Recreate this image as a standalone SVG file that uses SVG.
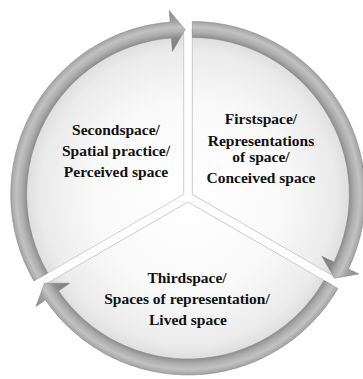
<svg xmlns="http://www.w3.org/2000/svg" xmlns:xlink="http://www.w3.org/1999/xlink" width="363" height="379" viewBox="0 0 363 379">
  <style>
    .lbl { font-family: "Liberation Serif", "Times New Roman", serif; font-weight: bold; font-size: 15.5px; fill: #111111; text-anchor: middle; }
    .pie { fill: url(#pieFill); stroke: #c4c4c4; stroke-width: 0.8; }
    .arr { fill: url(#bandFill); stroke: #858585; stroke-width: 0.5; }
  </style>
  <defs>
    <radialGradient id="pieFill" gradientUnits="userSpaceOnUse" cx="0" cy="0" r="168">
      <stop offset="0" stop-color="#ffffff"/>
      <stop offset="0.55" stop-color="#f9f9f9"/>
      <stop offset="0.85" stop-color="#ebebeb"/>
      <stop offset="1" stop-color="#d6d6d6"/>
    </radialGradient>
    <radialGradient id="bandFill" gradientUnits="userSpaceOnUse" cx="0" cy="0" r="185">
      <stop offset="0.77" stop-color="#7c7c7c"/>
      <stop offset="0.845" stop-color="#8a8a8a"/>
      <stop offset="0.875" stop-color="#adadad"/>
      <stop offset="0.905" stop-color="#c2c2c2"/>
      <stop offset="0.935" stop-color="#a2a2a2"/>
      <stop offset="1" stop-color="#868686"/>
    </radialGradient>
    <path id="sector" d="M0,0 L-142.9,82.5 A165,165 0 0 1 0,-165 Z"/>
    <path id="arrow" d="M-149.82,86.5 A173,173 0 0 1 -13.57,-172.47 L-14.48,-183.93 L1.44,-164.99 L-11.26,-143.06 L-12.32,-156.52 A157,157 0 0 0 -135.97,78.5 Z"/>
  </defs>
  <rect width="363" height="379" fill="#ffffff"/>

  <g id="secondspace">
    <use xlink:href="#sector" class="pie" transform="translate(188,197) rotate(0) translate(-4.33,-2.5)"/>
    <text class="lbl" x="116" y="135">Secondspace/</text>
    <text class="lbl" x="116" y="156">Spatial practice/</text>
    <text class="lbl" x="116" y="177">Perceived space</text>
  </g>

  <g id="firstspace">
    <use xlink:href="#sector" class="pie" transform="translate(188,197) rotate(120) translate(-4.33,-2.5)"/>
    <text class="lbl" x="261" y="124">Firstspace/</text>
    <text class="lbl" x="261" y="146">Representations</text>
    <text class="lbl" x="261" y="161.5">of space/</text>
    <text class="lbl" x="261" y="183">Conceived space</text>
  </g>

  <g id="thirdspace">
    <use xlink:href="#sector" class="pie" transform="translate(188,197) rotate(240) translate(-4.33,-2.5)"/>
    <text class="lbl" x="187" y="283">Thirdspace/</text>
    <text class="lbl" x="187" y="304">Spaces of representation/</text>
    <text class="lbl" x="188" y="325">Lived space</text>
  </g>

  <g id="connectors">
    <use xlink:href="#arrow" class="arr" transform="translate(188,197) rotate(0) translate(-4.33,-2.5)"/>
    <use xlink:href="#arrow" class="arr" transform="translate(188,197) rotate(120) translate(-4.33,-2.5)"/>
    <use xlink:href="#arrow" class="arr" transform="translate(188,197) rotate(240) translate(-4.33,-2.5)"/>
  </g>
</svg>
